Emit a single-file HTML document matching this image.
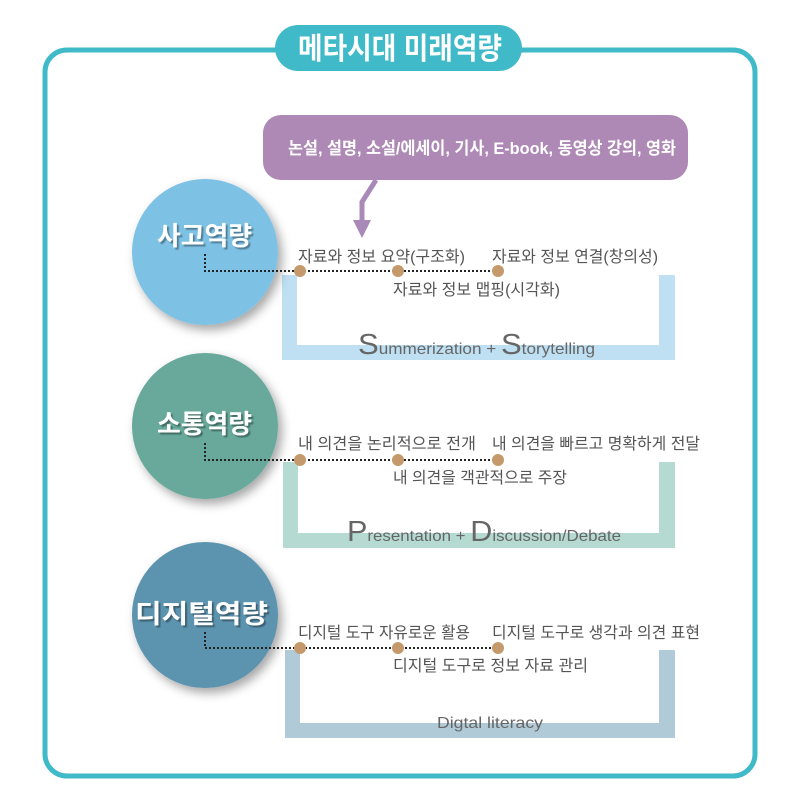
<!DOCTYPE html>
<html><head><meta charset="utf-8"><style>
html,body{margin:0;padding:0;background:#fff;}
svg{display:block;}
text{font-family:"Liberation Sans","Noto Sans CJK KR","NanumGothic",sans-serif;}
</style></head><body>
<svg width="800" height="800" viewBox="0 0 800 800" xmlns="http://www.w3.org/2000/svg">
<defs>
<filter id="sh" x="-30%" y="-30%" width="170%" height="170%">
<feDropShadow dx="4" dy="5" stdDeviation="5" flood-color="#000" flood-opacity="0.35"/>
</filter>
<filter id="ts"><feDropShadow dx="2" dy="2" stdDeviation="0.6" flood-color="#000" flood-opacity="0.35"/></filter>
</defs>
<rect x="45" y="50" width="710" height="726" rx="22" fill="none" stroke="#40BAC8" stroke-width="5"/>
<rect x="275" y="25" width="247" height="46" rx="23" fill="#40BAC8"/>
<text x="298" y="59" textLength="204" lengthAdjust="spacingAndGlyphs" font-size="30" font-weight="bold" fill="#fff">메타시대 미래역량</text>

<rect x="263" y="115" width="425" height="65" rx="18" fill="#AE89B5"/>
<text x="288" y="154" textLength="388" lengthAdjust="spacingAndGlyphs" font-size="17" font-weight="bold" fill="#fff">논설, 설명, 소설/에세이, 기사, E-book, 동영상 강의, 영화</text>
<polyline points="376,180 362,202 362,222" fill="none" stroke="#A989B8" stroke-width="5"/>
<polygon points="353,220 371,220 362,238" fill="#A989B8"/>

<path d="M282 275 V360 H675 V275 H659 V345 H297 V275 Z" fill="#BEE0F2"/>
<path d="M283 462 V548 H675 V462 H659 V533 H298 V462 Z" fill="#B5DAD1"/>
<path d="M285 650 V738 H675 V650 H659 V723 H300 V650 Z" fill="#B0CAD8"/>

<circle cx="205" cy="252" r="73" fill="#7DC1E5" filter="url(#sh)"/>
<circle cx="205" cy="426" r="73" fill="#68A99C" filter="url(#sh)"/>
<circle cx="205" cy="615" r="73" fill="#5C93AF" filter="url(#sh)"/>
<g font-size="26" font-weight="bold" fill="#fff" filter="url(#ts)">
<text x="157" y="245" textLength="95" lengthAdjust="spacingAndGlyphs">사고역량</text>
<text x="157" y="433" textLength="95" lengthAdjust="spacingAndGlyphs">소통역량</text>
<text x="135" y="623" textLength="133" lengthAdjust="spacingAndGlyphs">디지털역량</text>
</g>

<g fill="none" stroke="#222" stroke-width="2" stroke-dasharray="2,2">
<polyline points="205,254 205,271 498,271"/>
<polyline points="205,443 205,460 498,460"/>
<polyline points="205,632 205,648 498,648"/>
</g>
<g fill="#C49A6C">
<circle cx="300" cy="271" r="6"/><circle cx="398" cy="271" r="6"/><circle cx="498" cy="271" r="6"/>
<circle cx="300" cy="460" r="6"/><circle cx="398" cy="460" r="6"/><circle cx="498" cy="460" r="6"/>
<circle cx="300" cy="648" r="6"/><circle cx="398" cy="648" r="6"/><circle cx="498" cy="648" r="6"/>
</g>

<g font-size="16" fill="#555">
<text x="298" y="262" textLength="167" lengthAdjust="spacingAndGlyphs">자료와 정보 요약(구조화)</text>
<text x="492" y="262" textLength="166" lengthAdjust="spacingAndGlyphs">자료와 정보 연결(창의성)</text>
<text x="393" y="295" textLength="167" lengthAdjust="spacingAndGlyphs">자료와 정보 맵핑(시각화)</text>
<text x="298" y="449" textLength="178" lengthAdjust="spacingAndGlyphs">내 의견을 논리적으로 전개</text>
<text x="492" y="449" textLength="208" lengthAdjust="spacingAndGlyphs">내 의견을 빠르고 명확하게 전달</text>
<text x="393" y="483" textLength="174" lengthAdjust="spacingAndGlyphs">내 의견을 객관적으로 주장</text>
<text x="298" y="638" textLength="172" lengthAdjust="spacingAndGlyphs">디지털 도구 자유로운 활용</text>
<text x="492" y="638" textLength="208" lengthAdjust="spacingAndGlyphs">디지털 도구로 생각과 의견 표현</text>
<text x="393" y="671" textLength="195" lengthAdjust="spacingAndGlyphs">디지털 도구로 정보 자료 관리</text>
</g>
<text x="358" y="354" textLength="237" lengthAdjust="spacingAndGlyphs" font-size="16" fill="#666"><tspan font-size="29">S</tspan>ummerization + <tspan font-size="29">S</tspan>torytelling</text>
<text x="347" y="541" textLength="274" lengthAdjust="spacingAndGlyphs" font-size="16" fill="#666"><tspan font-size="29">P</tspan>resentation + <tspan font-size="29">D</tspan>iscussion/Debate</text>
<text x="437" y="728" textLength="106" lengthAdjust="spacingAndGlyphs" font-size="16" fill="#666">Digtal literacy</text>
</svg>
</body></html>
